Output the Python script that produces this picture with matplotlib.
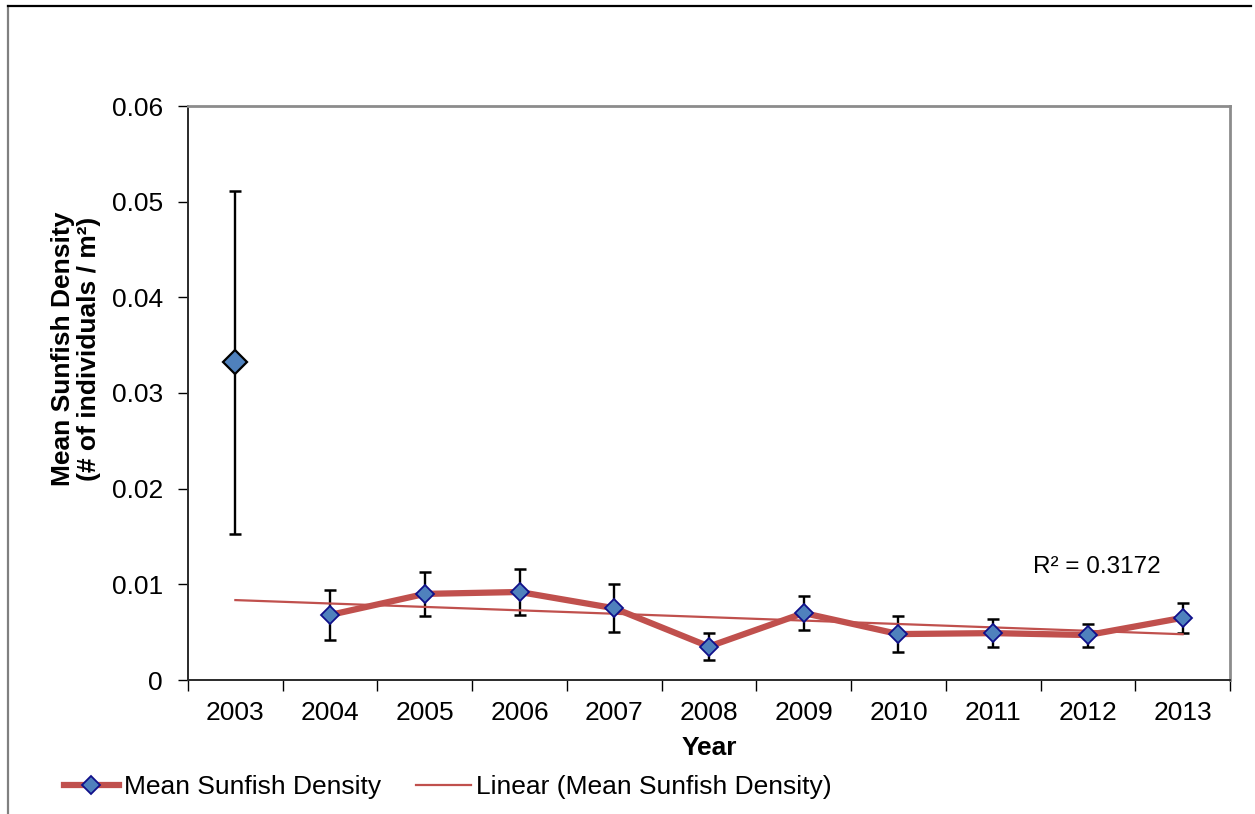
import numpy as np
import matplotlib
matplotlib.use("Agg")
import matplotlib.pyplot as plt
from matplotlib.lines import Line2D

plt.rcParams['font.family'] = ['Liberation Sans', 'DejaVu Sans']

# Sunfish survey results, 2003-2013
years = ['2003', '2004', '2005', '2006', '2007', '2008',
         '2009', '2010', '2011', '2012', '2013']
mean_density = [0.0332, 0.0068, 0.0090, 0.0092, 0.0075, 0.0035,
                0.0070, 0.0048, 0.0049, 0.0047, 0.0065]
err_density = [0.0179, 0.0026, 0.0023, 0.0024, 0.0025, 0.0014,
               0.0018, 0.0019, 0.0015, 0.0012, 0.0016]
r2_label = 'R² = 0.3172'
yticks = [0, 0.01, 0.02, 0.03, 0.04, 0.05, 0.06]
ytick_labels = ['0', '0.01', '0.02', '0.03', '0.04', '0.05', '0.06']

RED = '#C0504D'
FILL = '#4F81BD'
EDGE = '#10108A'
FS = 19

fig = plt.figure(figsize=(12.55, 8.14), dpi=100)
ax = fig.add_axes([188 / 1255, 1 - 680 / 814, (1230 - 188) / 1255, (680 - 106) / 814])

x = np.arange(len(years))
y = np.array(mean_density)
e = np.array(err_density)

# error bars for every year
ax.errorbar(x, y, yerr=e, fmt='none', ecolor='black', elinewidth=1.7,
            capsize=4.5, capthick=1.8, zorder=3)

# 2003 shown as a stand-alone point
ax.plot(x[:1], y[:1], linestyle='none', marker='D', markersize=12,
        markerfacecolor=FILL, markeredgecolor='black', markeredgewidth=1.6, zorder=5)

# connected series from 2004 onwards
ax.plot(x[1:], y[1:], color=RED, linewidth=4.5, marker='D', markersize=9,
        markerfacecolor=FILL, markeredgecolor=EDGE, markeredgewidth=1.3,
        solid_joinstyle='round', zorder=4)

# linear trend fitted to 2004-2013, projected back to 2003
coef = np.polyfit(x[1:], y[1:], 1)
ax.plot(x, np.polyval(coef, x), color=RED, linewidth=1.6, zorder=3.5)

ax.text(9.09, 0.0118, r2_label, fontsize=17.5, ha='center', va='center')

ax.set_xlim(-0.5, len(years) - 0.5)
ax.set_ylim(0, 0.06)
ax.set_yticks(yticks)
ax.set_yticklabels(ytick_labels, fontsize=FS)
ax.set_xticks(x)
ax.set_xticklabels(years, fontsize=FS)
ax.set_xticks(np.arange(-0.5, len(years), 1.0), minor=True)
ax.tick_params(axis='x', which='major', length=0, pad=15)
ax.tick_params(axis='x', which='minor', length=8, width=1.0, direction='out', color='black')
ax.tick_params(axis='y', length=7, width=1.0, direction='out', pad=11, color='black')

for side in ('top', 'right'):
    ax.spines[side].set_color('#8C8C8C')
    ax.spines[side].set_linewidth(2.0)
for side in ('left', 'bottom'):
    ax.spines[side].set_color('#2A2A2A')
    ax.spines[side].set_linewidth(1.4)

ax.set_xlabel('Year', fontsize=FS, fontweight='bold', labelpad=8)
fig.text(76 / 1255, 1 - 349 / 814, 'Mean Sunfish Density\n(# of individuals / m²)',
         rotation=90, fontsize=FS, fontweight='bold', ha='center', va='center',
         linespacing=1.15, multialignment='center')

# legend under the plot
handles = [
    Line2D([], [], color=RED, linewidth=4.5, marker='D', markersize=9,
           markerfacecolor=FILL, markeredgecolor=EDGE, markeredgewidth=1.3),
    Line2D([], [], color=RED, linewidth=1.6),
]
fig.legend(handles, ['Mean Sunfish Density', 'Linear (Mean Sunfish Density)'],
           loc='center left', bbox_to_anchor=(53 / 1255, 1 - 787 / 814),
           ncol=2, frameon=False, fontsize=FS, handlelength=2.1,
           handletextpad=0.2, columnspacing=1.3, borderaxespad=0)

# chart area border
fig.add_artist(Line2D([8 / 1255, 8 / 1255], [0, 1 - 6 / 814], color='#808080',
                      linewidth=1.6, transform=fig.transFigure))
fig.add_artist(Line2D([8 / 1255, 1251 / 1255], [1 - 6 / 814, 1 - 6 / 814], color='black',
                      linewidth=1.6, transform=fig.transFigure))

fig.savefig('out.png', dpi=100)
